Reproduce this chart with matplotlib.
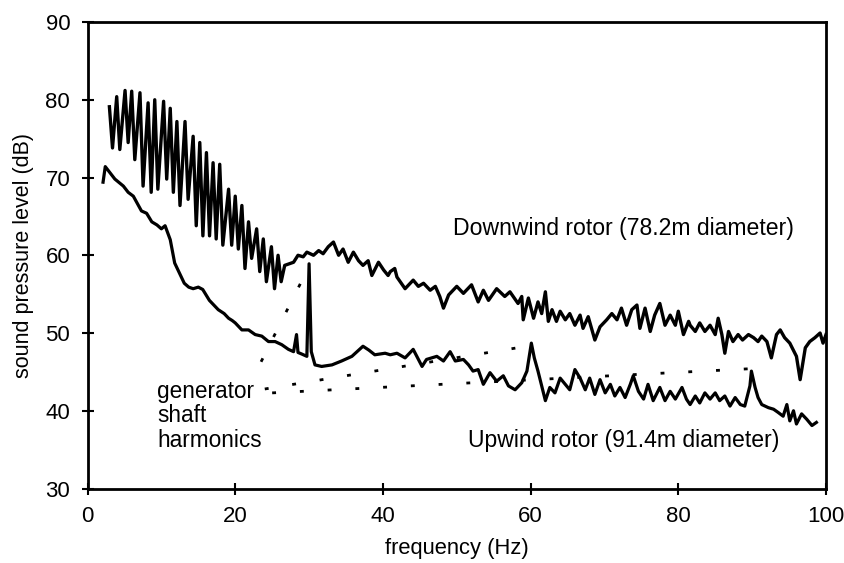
import numpy as np
from matplotlib import pyplot as plt

plt.rcParams["font.family"] = ["Liberation Sans", "DejaVu Sans"]

# Downwind rotor, low-frequency blade-passing harmonics: each bar top / bottom.
dw_bar_freq = [2.96, 3.95, 5.08, 5.98, 7.1, 8.2, 9.1, 10.3, 11.2, 12.1, 13.2, 14.3,
               15.2, 16.1, 17.0, 17.9, 19.1, 20.0, 20.9, 21.8, 22.9, 23.8, 24.9, 25.8]
dw_bar_top = [79.1, 80.4, 81.2, 81.1, 80.9, 79.6, 80.0, 79.8, 78.9, 77.2, 77.2, 75.3,
              74.5, 73.2, 71.9, 71.7, 68.5, 67.6, 66.4, 64.3, 63.4, 62.1, 61.1, 60.0]
dw_bar_bottom = [73.8, 73.6, 74.5, 72.3, 68.9, 68.1, 68.5, 69.8, 68.1, 66.4, 67.2, 63.8,
                 62.5, 62.5, 62.1, 61.3, 61.3, 60.8, 58.3, 59.6, 57.9, 56.6, 55.7, 56.6]

# Downwind rotor above 26 Hz.
dw_freq = [26.7, 27.9, 28.5, 29.2, 29.7, 30.6, 31.3, 31.9, 32.6, 33.3, 34.0, 34.6,
           35.3, 36.0, 36.7, 37.3, 38.0, 38.5, 39.4, 40.1, 40.7, 41.0, 41.6, 41.9,
           43.0, 44.1, 44.8, 45.5, 46.4, 47.1, 47.7, 48.2, 48.9, 50.0, 50.9, 52.0,
           52.9, 53.6, 54.3, 55.4, 56.5, 57.2, 58.3, 58.8, 59.0, 59.7, 60.4, 61.0,
           61.5, 62.0, 62.4, 62.9, 63.5, 64.0, 64.7, 65.3, 66.0, 66.7, 67.1, 67.8,
           68.7, 69.4, 70.3, 71.0, 71.7, 72.3, 73.0, 73.7, 74.4, 74.8, 75.5, 76.2,
           76.8, 77.5, 78.2, 78.9, 79.6, 80.0, 80.7, 81.4, 81.6, 82.3, 82.9, 83.6,
           84.3, 85.0, 85.4, 85.9, 86.3, 86.8, 87.4, 88.1, 88.7, 89.5, 90.2, 90.8,
           91.3, 92.0, 92.6, 93.3, 93.8, 94.4, 95.1, 96.0, 96.5, 97.2, 97.8, 98.5,
           99.2, 99.6, 100.0]
dw_level = [58.7, 59.1, 60.0, 59.8, 60.4, 60.0, 60.6, 60.2, 61.1, 61.7, 60.0, 60.8,
            59.1, 60.4, 59.3, 58.7, 59.3, 57.4, 59.1, 58.1, 57.4, 57.9, 58.3, 57.2,
            55.7, 56.8, 56.0, 56.4, 55.5, 56.0, 54.7, 53.2, 54.9, 56.0, 55.1, 56.2,
            54.0, 55.5, 54.2, 55.7, 54.7, 55.3, 53.8, 54.7, 51.7, 54.5, 51.9, 54.0,
            52.5, 55.3, 51.5, 53.0, 51.5, 52.8, 51.7, 52.5, 51.0, 52.3, 50.6, 52.1,
            49.1, 50.8, 51.7, 52.5, 51.7, 53.2, 51.0, 53.0, 53.6, 50.6, 53.2, 50.2,
            52.3, 53.8, 51.0, 52.3, 51.0, 52.8, 49.8, 51.5, 51.0, 50.2, 51.3, 50.2,
            51.0, 49.8, 51.9, 49.8, 47.4, 50.2, 48.9, 49.8, 49.1, 49.8, 49.4, 48.9,
            49.6, 48.9, 46.8, 49.8, 50.4, 49.4, 48.7, 47.0, 44.0, 48.1, 48.9, 49.4,
            50.0, 48.7, 49.8]

# Upwind rotor.
uw_freq = [2.1, 2.4, 3.7, 4.85, 5.5, 6.2, 6.9, 7.3, 8.0, 8.7, 9.4, 10.0, 10.5, 11.2,
           11.8, 12.5, 13.1, 13.7, 14.3, 15.0, 15.6, 16.5, 17.1, 17.7, 18.5, 19.1,
           19.6, 20.0, 20.9, 21.8, 22.7, 23.6, 24.5, 25.4, 26.3, 27.2, 27.9, 28.3,
           28.5, 29.0, 29.7, 30.0, 30.3, 30.8, 31.7, 33.1, 34.4, 35.8, 37.3, 38.1,
           38.9, 40.3, 41.0, 41.9, 43.0, 44.1, 45.3, 45.9, 47.3, 48.2, 49.1, 49.8,
           50.9, 51.6, 52.2, 52.9, 53.6, 54.5, 55.4, 56.3, 57.0, 57.9, 58.8, 59.5,
           60.1, 60.5, 61.0, 62.0, 62.6, 63.3, 64.0, 64.7, 65.3, 66.0, 66.7, 67.4,
           68.0, 68.7, 69.4, 70.1, 70.8, 71.4, 72.1, 72.8, 73.5, 73.9, 74.6, 75.3,
           75.9, 76.6, 77.5, 78.2, 78.9, 79.6, 80.5, 81.1, 81.6, 82.3, 82.9, 83.6,
           84.3, 85.0, 85.6, 86.3, 87.0, 87.7, 88.4, 89.0, 89.7, 89.9, 90.4, 90.8,
           91.3, 92.2, 92.9, 93.5, 94.2, 94.7, 95.1, 95.6, 96.0, 96.7, 97.4, 98.1,
           98.7]
uw_level = [69.4, 71.4, 69.8, 68.9, 68.1, 67.6, 66.4, 65.7, 65.4, 64.3, 63.9, 63.4,
            63.8, 62.0, 59.0, 57.6, 56.4, 55.9, 55.7, 55.9, 55.6, 54.2, 53.6, 53.0,
            52.5, 51.9, 51.6, 51.3, 50.4, 50.4, 49.8, 49.6, 48.9, 48.9, 48.5, 47.9,
            47.6, 49.8, 47.5, 47.3, 47.0, 58.9, 47.6, 45.9, 45.7, 45.9, 46.4, 47.0,
            48.3, 47.8, 47.2, 47.4, 47.2, 47.4, 46.8, 47.9, 45.7, 46.6, 47.0, 46.4,
            47.6, 46.4, 46.6, 45.9, 45.1, 45.3, 43.4, 44.9, 43.8, 44.5, 43.2, 42.7,
            43.6, 45.1, 48.7, 46.8, 45.1, 41.3, 43.0, 42.3, 44.2, 43.4, 42.7, 45.3,
            44.2, 42.7, 44.2, 42.1, 44.0, 42.3, 43.4, 41.9, 43.0, 41.7, 43.4, 44.5,
            42.5, 41.5, 43.4, 41.3, 43.0, 41.3, 42.5, 41.5, 43.0, 41.5, 40.8, 41.9,
            41.0, 42.3, 41.5, 42.3, 41.3, 41.9, 40.6, 41.7, 40.8, 40.6, 43.2, 45.1,
            43.0, 41.7, 40.8, 40.4, 40.2, 39.8, 39.3, 40.8, 38.7, 40.0, 38.3, 39.6,
            38.9, 38.1, 38.5]

# Dotted leader lines from the "generator shaft harmonics" note to the peaks.
leader_start_freq = [23.5, 24.0, 25.0]
leader_start_level = [46.3, 42.8, 42.3]
leader_end_freq = [28.9, 59.5, 89.6]
leader_end_level = [56.5, 48.3, 45.4]

# Interleave bar tops and bottoms into one trace.
low_freq = []
low_level = []
for f, top, bottom in zip(dw_bar_freq, dw_bar_top, dw_bar_bottom):
    low_freq += [f, f + 0.42]
    low_level += [top, bottom]
down_freq = np.array(low_freq + dw_freq)
down_level = np.array(low_level + dw_level)

fig = plt.figure(figsize=(8.45, 5.63), dpi=100)
ax = fig.add_axes([0.1036, 0.1323, 0.8739, 0.8286])

ax.plot(down_freq, down_level, color="black", lw=2.4)
ax.plot(uw_freq, uw_level, color="black", lw=2.3)

for x0, y0, x1, y1 in zip(leader_start_freq, leader_start_level,
                          leader_end_freq, leader_end_level):
    ax.plot([x0, x1], [y0, y1], color="black", lw=2.0, linestyle=(0, (1.4, 8.6)))

ax.text(49.5, 63.5, "Downwind rotor (78.2m diameter)", fontsize=16.6, va="center")
ax.text(51.5, 36.2, "Upwind rotor (91.4m diameter)", fontsize=16.6, va="center")
ax.text(9.4, 39.35, "generator\nshaft\nharmonics", fontsize=16.3, va="center",
        linespacing=1.08)

ax.set_xlim(0, 100)
ax.set_ylim(30, 90)
ax.set_xticks(range(0, 101, 20))
ax.set_yticks(range(30, 91, 10))
ax.tick_params(direction="inout", length=9, width=1.5, labelsize=16, pad=8)
for side in ax.spines.values():
    side.set_linewidth(2.0)

ax.set_xlabel("frequency (Hz)", fontsize=15.8, labelpad=8)
ax.set_ylabel("sound pressure level (dB)", fontsize=15.5, labelpad=8)

fig.savefig("out.png", dpi=100)
